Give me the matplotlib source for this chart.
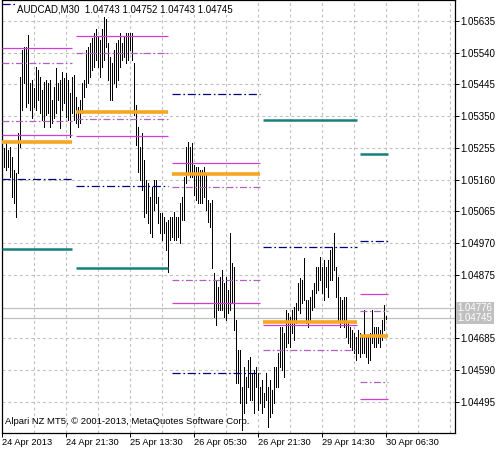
import numpy as np
import matplotlib
matplotlib.use("Agg")
from matplotlib import pyplot as plt
from matplotlib.transforms import blended_transform_factory

plt.rcParams['font.family'] = ['Liberation Sans', 'DejaVu Sans']

symbol = "AUDCAD,M30"
last_ohlc = [1.04743, 1.04752, 1.04743, 1.04745]
ask_price = 1.04776
bid_price = 1.04745
copyright_txt = "Alpari NZ MT5, \u00a9 2001-2013, MetaQuotes Software Corp."

# M30 bars, high / low
bar_high = [
    1.05255, 1.05270, 1.05249, 1.05258, 1.05228, 1.05189, 1.05180, 1.05300,
    1.05468, 1.05549, 1.05558, 1.05558, 1.05594, 1.05450, 1.05459, 1.05435,
    1.05498, 1.05489, 1.05468, 1.05429, 1.05453, 1.05459, 1.05450, 1.05459,
    1.05399, 1.05438, 1.05495, 1.05450, 1.05459, 1.05483, 1.05465,
    1.05480, 1.05459, 1.05420, 1.05468, 1.05474, 1.05408, 1.05378, 1.05399,
    1.05450, 1.05459, 1.05549, 1.05558, 1.05570, 1.05585, 1.05600, 1.05609,
    1.05588, 1.05579, 1.05609, 1.05645, 1.05639, 1.05570, 1.05528, 1.05510,
    1.05549, 1.05570, 1.05579, 1.05600, 1.05570, 1.05588, 1.05600, 1.05600,
    1.05600, 1.05600, 1.05510, 1.05384, 1.05318, 1.05258, 1.05300, 1.05219,
    1.05159, 1.05150, 1.05108, 1.05138, 1.05159, 1.05159, 1.05108, 1.05060,
    1.05060, 1.05048, 1.05033, 1.05039, 1.05048, 1.05048, 1.05063, 1.05048,
    1.05048, 1.05090, 1.05108, 1.05168, 1.05258, 1.05273, 1.05258, 1.05270,
    1.05204, 1.05198, 1.05198, 1.05189, 1.05189, 1.05198, 1.05180, 1.05099,
    1.05090, 1.05099, 1.04880, 1.04859, 1.04838, 1.04868, 1.04889, 1.04850,
    1.04868, 1.04829, 1.04999, 1.04910, 1.04898, 1.04739, 1.04649, 1.04649,
    1.04538, 1.04598, 1.04568, 1.04619, 1.04628, 1.04580, 1.04589, 1.04598,
    1.04580, 1.04538, 1.04559, 1.04520, 1.04580, 1.04538, 1.04559, 1.04529,
    1.04598, 1.04598, 1.04640, 1.04718, 1.04718, 1.04700, 1.04769, 1.04760,
    1.04748, 1.04769, 1.04778, 1.04790, 1.04850, 1.04865, 1.04859, 1.04925,
    1.04799, 1.04799, 1.04808, 1.04829, 1.04850, 1.04898, 1.04898, 1.04928,
    1.04898, 1.04919, 1.04898, 1.04919, 1.04949, 1.04958, 1.05000, 1.04898,
    1.04868, 1.04808, 1.04799, 1.04808, 1.04808, 1.04730, 1.04718, 1.04709,
    1.04700, 1.04688, 1.04709, 1.04700, 1.04688, 1.04769, 1.04688, 1.04688,
    1.04700, 1.04769, 1.04718, 1.04718, 1.04718, 1.04709, 1.04739, 1.04784,
    1.04752,
]
bar_low = [
    1.05198, 1.05189, 1.05198, 1.05168, 1.05108, 1.05090, 1.05048, 1.05180,
    1.05258, 1.05369, 1.05450, 1.05378, 1.05390, 1.05369, 1.05345, 1.05378,
    1.05369, 1.05399, 1.05360, 1.05339, 1.05318, 1.05354, 1.05360, 1.05318,
    1.05330, 1.05345, 1.05360, 1.05399, 1.05315, 1.05369, 1.05390,
    1.05348, 1.05339, 1.05288, 1.05360, 1.05339, 1.05330, 1.05318, 1.05330,
    1.05360, 1.05408, 1.05438, 1.05450, 1.05468, 1.05489, 1.05498, 1.05519,
    1.05498, 1.05468, 1.05498, 1.05519, 1.05558, 1.05459, 1.05399, 1.05399,
    1.05450, 1.05438, 1.05459, 1.05498, 1.05519, 1.05528, 1.05510, 1.05519,
    1.05549, 1.05519, 1.05354, 1.05264, 1.05183, 1.05159, 1.05129, 1.05048,
    1.05060, 1.05030, 1.05000, 1.04988, 1.05069, 1.05090, 1.05030, 1.05000,
    1.04979, 1.05000, 1.04949, 1.04883, 1.04979, 1.04988, 1.04979, 1.04979,
    1.04988, 1.04970, 1.05039, 1.05039, 1.05150, 1.05183, 1.05168, 1.05168,
    1.05114, 1.05099, 1.05090, 1.05090, 1.05090, 1.05108, 1.05069, 1.05033,
    1.05018, 1.04895, 1.04748, 1.04724, 1.04769, 1.04769, 1.04769, 1.04748,
    1.04739, 1.04760, 1.04769, 1.04790, 1.04709, 1.04550, 1.04550, 1.04490,
    1.04410, 1.04460, 1.04490, 1.04538, 1.04499, 1.04499, 1.04460, 1.04538,
    1.04469, 1.04490, 1.04460, 1.04478, 1.04499, 1.04418, 1.04448, 1.04460,
    1.04490, 1.04538, 1.04538, 1.04598, 1.04589, 1.04568, 1.04658, 1.04670,
    1.04658, 1.04700, 1.04679, 1.04730, 1.04769, 1.04760, 1.04790, 1.04799,
    1.04730, 1.04718, 1.04739, 1.04769, 1.04778, 1.04820, 1.04829, 1.04859,
    1.04820, 1.04799, 1.04838, 1.04808, 1.04859, 1.04859, 1.04889, 1.04808,
    1.04739, 1.04718, 1.04730, 1.04718, 1.04688, 1.04670, 1.04658, 1.04649,
    1.04640, 1.04619, 1.04640, 1.04628, 1.04640, 1.04640, 1.04628, 1.04610,
    1.04619, 1.04670, 1.04658, 1.04658, 1.04670, 1.04658, 1.04679, 1.04709,
    1.04743,
]

# daily pivot levels (start bar, end bar per day)
day_start = [-1, 36, 84, 129.5, 178]
day_end = [34, 82, 128, 176.5, 192]
pivot_val = [1.05273, 1.05363, 1.05177, 1.04733, 1.04691]
solid_day = [0, 0, 1, 1, 2, 2, 3, 4, 4]
solid_val = [1.05555, 1.05294, 1.05591, 1.05291, 1.05210, 1.04790, 1.04724, 1.04817, 1.04502]
dash_day = [0, 0, 1, 1, 2, 2, 3, 4, 4]
dash_val = [1.05510, 1.05336, 1.05540, 1.05342, 1.05138, 1.04859, 1.04649, 1.04766, 1.04553]
navy_day = [0, 0, 1, 2, 2, 3, 4]
navy_val = [1.05684, 1.05162, 1.05141, 1.05417, 1.04580, 1.04958, 1.04976]
teal_day = [0, 1, 3, 4]
teal_val = [1.04952, 1.04895, 1.05339, 1.05237]

price_ticks = [1.05635, 1.05540, 1.05445, 1.05350, 1.05255, 1.05160, 1.05065,
               1.04970, 1.04875, 1.04685, 1.04590, 1.04495]
time_ticks = [-0.85, 31, 63, 95, 127, 159, 191]
time_labels = ["24 Apr 2013", "24 Apr 21:30", "25 Apr 13:30", "26 Apr 05:30",
               "26 Apr 21:30", "29 Apr 14:30", "30 Apr 06:30"]

fig = plt.figure(figsize=(5.04, 4.49), dpi=100)
ax = fig.add_axes([2.3 / 504, 16.3 / 449, 452.7 / 504, 432.7 / 449])
ax.set_xlim(-0.85, 225.5)
ax.set_ylim(1.044021, 1.056973)

# grid
grid_kw = dict(color='#c0c0c0', lw=0.8, dashes=(2.6, 2.6), zorder=0)
for gx in np.arange(15, 226, 16):
    ax.axvline(gx, **grid_kw)
for gy in price_ticks:
    ax.axhline(gy, **grid_kw)

ax.axhline(ask_price, color='#c0c0c0', lw=0.9, zorder=1)
ax.axhline(bid_price, color='#c0c0c0', lw=0.9, zorder=1)

idx = np.arange(len(bar_high))
ax.vlines(idx, bar_low, bar_high, color='black', lw=0.55, antialiased=False, zorder=2)

def seg(days, vals, **kw):
    for d, v in zip(days, vals):
        ax.plot([day_start[d], day_end[d]], [v, v], solid_capstyle='butt', **kw)

seg(range(5), pivot_val, color='#f5a623', lw=2.6, zorder=4)
seg(teal_day, teal_val, color='#17807d', lw=1.8, zorder=4)
seg(solid_day, solid_val, color='#d23cd2', lw=0.9, zorder=3)
seg(dash_day, dash_val, color='#b060c0', lw=0.9, dashes=(5.5, 2, 1.3, 2), zorder=3)
seg(navy_day, navy_val, color='#00007a', lw=0.9, dashes=(6.5, 2.2, 1.3, 2.2), zorder=3)

ax.yaxis.tick_right()
ax.set_yticks(price_ticks)
ax.set_yticklabels([f"{p:.5f}" for p in price_ticks])
ax.tick_params(axis='y', length=3, width=0.7, pad=0.6, labelsize=7)
ax.set_xticks(time_ticks)
ax.set_xticklabels(time_labels, ha='left')
ax.tick_params(axis='x', length=3, width=0.7, pad=1, labelsize=6.7)
for s in ax.spines.values():
    s.set_color('black')
    s.set_linewidth(0.9)

tr = blended_transform_factory(ax.transAxes, ax.transData)
for p in [ask_price, bid_price]:
    ax.text(1.0055, p, f"{p:.5f}", transform=tr, color='white', fontsize=7,
            va='center', ha='left', clip_on=False,
            bbox=dict(facecolor='#c0c0c0', edgecolor='none', pad=0.9))

header = symbol + "  " + " ".join(f"{v:.5f}" for v in last_ohlc)
ax.text(0.0325, 0.979, header, transform=ax.transAxes, fontsize=7, va='center',
        ha='left', zorder=6,
        bbox=dict(facecolor='white', edgecolor='none', pad=0.5))
ax.text(0.0053, 0.027, copyright_txt, transform=ax.transAxes, fontsize=6.8,
        va='center', ha='left', zorder=6)

fig.savefig("out.png", dpi=100)
